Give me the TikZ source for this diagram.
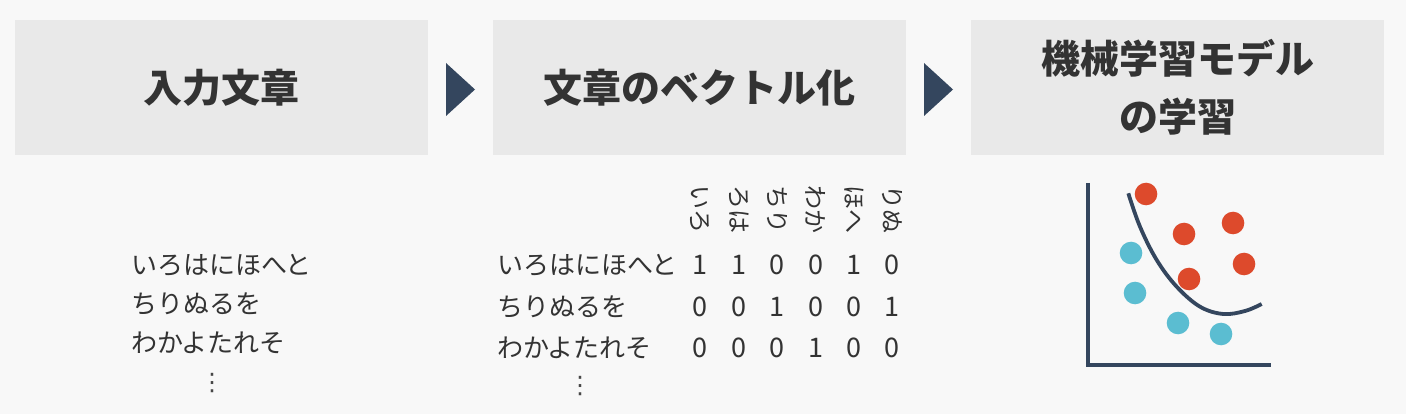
\documentclass[tikz,border=0pt]{standalone}
\usepackage{fontspec}
\setmainfont{Noto Sans CJK JP}
\newfontfamily\dejavu{DejaVu Sans}
\definecolor{bgc}{HTML}{F8F8F8}
\definecolor{boxc}{HTML}{E9E9E9}
\definecolor{navy}{HTML}{34465E}
\definecolor{txt}{HTML}{333333}
\definecolor{redd}{HTML}{DD4A2C}
\definecolor{blued}{HTML}{5BBDD1}
\begin{document}
\begin{tikzpicture}[x=1pt,y=-1pt,
  titlebox/.style={fill=boxc, minimum width=413pt, minimum height=135pt, inner sep=0pt,
    text=txt, font=\fontsize{39}{58}\selectfont\bfseries, align=center},
  bodytext/.style={text=txt, font=\fontsize{26}{30}\selectfont, inner sep=0pt},
  numtext/.style={text=txt, font=\fontsize{27}{30}\selectfont, inner sep=0pt},
  dotstext/.style={text=txt!90, font=\dejavu\fontsize{24}{30}\selectfont, inner sep=0pt},
  headtext/.style={text=txt, font=\fontsize{24}{28}\selectfont, inner sep=0pt, rotate=-90},
  arrowtri/.style={fill=navy},
  reddot/.style={circle, fill=redd, minimum size=22.6pt, inner sep=0pt},
  bluedot/.style={circle, fill=blued, minimum size=22.6pt, inner sep=0pt}]
\fill[bgc] (0,0) rectangle (1406,414);
\useasboundingbox (0,0) rectangle (1406,414);

% title boxes
\node[titlebox] (b1) at (221.5,87.5) {入力文章};
\node[titlebox] (b2) at (699.5,87.5) {文章のベクトル化};
\node[titlebox] (b3) at (1177.5,87.5) {機械学習モデル\\の学習};

% arrows
\fill[arrowtri] (446,63) -- (475,89.5) -- (446,116) -- cycle;
\fill[arrowtri] (924,63) -- (953,89.5) -- (924,116) -- cycle;

% input sentences
\node[bodytext, anchor=west] (s1) at (131,265) {いろはにほへと};
\node[bodytext, anchor=west] (s2) at (131,304) {ちりぬるを};
\node[bodytext, anchor=west] (s3) at (131,343) {わかよたれそ};
\node[dotstext] (s4) at (212,383) {⋮};

% vector matrix
\node[bodytext, anchor=west] (r1) at (497,265) {いろはにほへと};
\node[bodytext, anchor=west] (r2) at (497,307) {ちりぬるを};
\node[bodytext, anchor=west] (r3) at (497,348) {わかよたれそ};
\node[dotstext] (r4) at (580,386) {⋮};

\foreach \x/\h [count=\i] in {700/いろ,739/ろは,777/ちり,816/わか,854/ほへ,892/りぬ}
  \node[headtext] (h\i) at (\x,210) {\h};

\foreach \x/\a/\b/\c [count=\i] in {700/1/0/0,739/1/0/0,777/0/1/0,816/0/0/1,854/1/0/0,892/0/1/0}{
  \node[numtext] (m1\i) at (\x,265) {\a};
  \node[numtext] (m2\i) at (\x,307) {\b};
  \node[numtext] (m3\i) at (\x,348) {\c};
}

% scatter plot
\draw[navy, line width=4pt] (1088,183) -- (1088,365) -- (1271,365);
\draw[navy, line width=3.8pt] plot[smooth, tension=0.6] coordinates
  {(1128.3,193.3) (1140,226.7) (1156.7,260) (1176.7,286.7) (1200,306.7) (1223.3,314) (1245,311) (1261.7,304)};
\node[reddot] (p1) at (1146,194) {};
\node[reddot] (p2) at (1184,234) {};
\node[reddot] (p3) at (1233,223) {};
\node[reddot] (p4) at (1244,264) {};
\node[reddot] (p5) at (1189,279) {};
\node[bluedot] (q1) at (1131,253) {};
\node[bluedot] (q2) at (1135,293) {};
\node[bluedot] (q3) at (1178,323) {};
\node[bluedot] (q4) at (1221,334) {};
\end{tikzpicture}
\end{document}
